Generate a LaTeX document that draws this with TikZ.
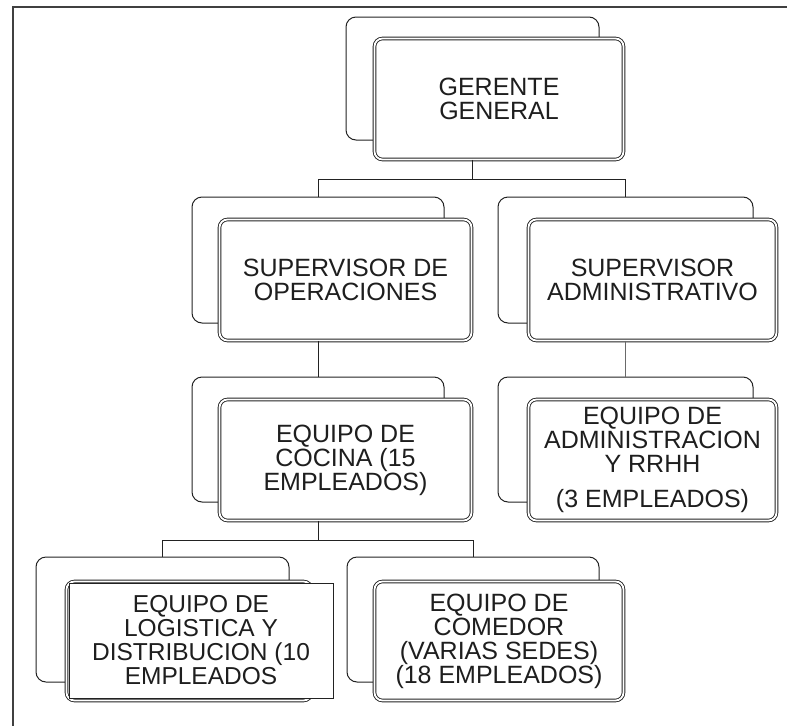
\documentclass[tikz,border=0pt]{standalone}
\usepackage{fontspec}
\setmainfont{Liberation Sans}
\definecolor{linec}{HTML}{222222}
\definecolor{textc}{HTML}{1E1E1E}
\definecolor{framec}{HTML}{404040}
\definecolor{grayc}{HTML}{6A6A6A}
\begin{document}
\begin{tikzpicture}[x=1pt,y=-1pt,
  back/.style={draw=linec, fill=white, rounded corners=10pt, line width=1pt, inner sep=0pt},
  front/.style={draw=linec, double=white, double distance=1.8pt, line width=0.9pt, fill=white,
    rounded corners=8pt, inner sep=0pt, align=center,
    font=\fontsize{25}{24}\selectfont, text=textc},
  sharpbox/.style={draw=linec, fill=white, line width=1pt, inner sep=0pt, align=center,
    font=\fontsize{24.5}{24}\selectfont, text=textc},
  conn/.style={draw=linec, line width=1pt}]
\useasboundingbox (0,0) rectangle (787,726);
% frame
\draw[framec, line width=1.3pt] (787,7) -| (13,726);

% GERENTE GENERAL
\node[back, minimum width=253pt, minimum height=123pt] (ggb) at (472.5,78.5) {};
\node[front, minimum width=249pt, minimum height=121pt] (gg) at (499,99) {GERENTE\\GENERAL};

% SUPERVISOR DE OPERACIONES
\node[back, minimum width=252pt, minimum height=126pt] (sopb) at (318,260) {};
\node[front, minimum width=252pt, minimum height=121pt] (sop) at (345.5,280) {SUPERVISOR DE\\OPERACIONES};

% SUPERVISOR ADMINISTRATIVO
\node[back, minimum width=255pt, minimum height=126pt] (sadb) at (625.5,260) {};
\node[front, minimum width=248pt, minimum height=121pt] (sad) at (652.5,280) {SUPERVISOR\\ADMINISTRATIVO};

% EQUIPO DE COCINA
\node[back, minimum width=252pt, minimum height=125pt] (cocb) at (318,439.5) {};
\node[front, minimum width=252pt, minimum height=121pt] (coc) at (345.5,460) {EQUIPO DE\\COCINA (15\\EMPLEADOS)};

% EQUIPO DE ADMINISTRACION
\node[back, minimum width=255pt, minimum height=125pt] (admb) at (625.5,439.5) {};
\node[front, minimum width=248pt, minimum height=121pt] (adm) at (652.5,460) {EQUIPO DE\\ADMINISTRACION\\Y RRHH\\[11pt](3 EMPLEADOS)};

% EQUIPO DE LOGISTICA
\node[back, minimum width=253pt, minimum height=125pt] (logb) at (162.5,619.5) {};
\node[front, minimum width=245pt, minimum height=119pt] (logf) at (189,641) {};
\node[sharpbox, minimum width=264pt, minimum height=115pt] (log) at (201,640.5) {EQUIPO DE\\LOGISTICA Y\\DISTRIBUCION (10\\EMPLEADOS};

% EQUIPO DE COMEDOR
\node[back, minimum width=252pt, minimum height=125pt] (comb) at (473,619.5) {};
\node[front, minimum width=249pt, minimum height=119pt] (com) at (499,641) {EQUIPO DE\\COMEDOR\\(VARIAS SEDES)\\(18 EMPLEADOS)};

% connectors
\coordinate (bus1) at (473,179);
\coordinate (bus2) at (318,540);
\draw[conn] (gg.south -| ggb.south) -- (ggb.south |- bus1);
\draw[conn] (sopb.north) |- (sadb.north |- bus1) -- (sadb.north);
\draw[conn] (sop.south -| sopb.south) -- (cocb.north);
\draw[draw=grayc, line width=1pt] (sad.south -| sadb.south) -- (admb.north);
\draw[conn] (coc.south -| cocb.south) -- (bus2);
\draw[conn] (logb.north) |- (comb.north |- bus2) -- (comb.north);
\end{tikzpicture}
\end{document}
